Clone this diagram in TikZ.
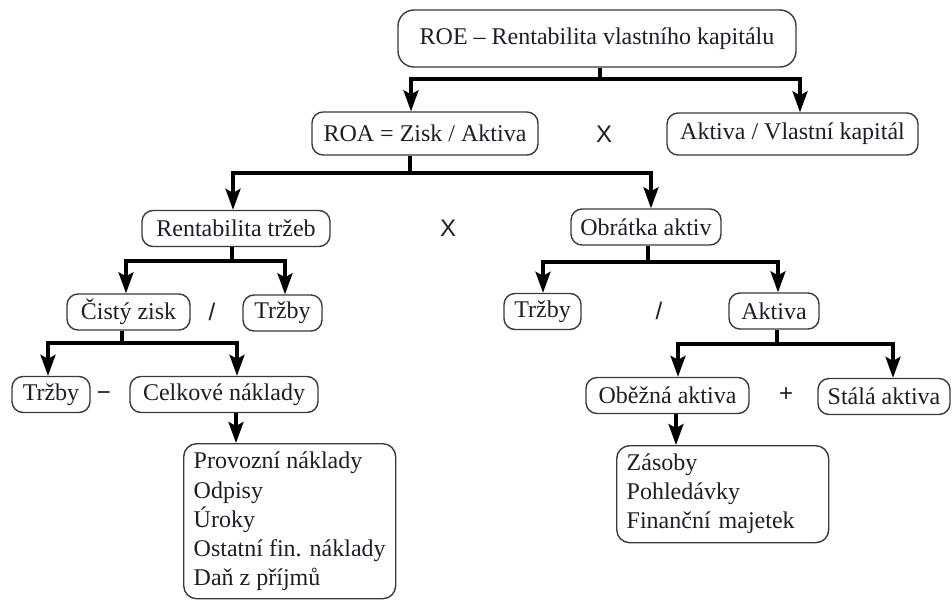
\documentclass[tikz,border=0pt]{standalone}
\usepackage{fontspec}
\setmainfont{Liberation Serif}
\newfontfamily\opfont{Liberation Sans}
\usetikzlibrary{arrows.meta}
\definecolor{boxline}{HTML}{3A3A3A}
\definecolor{txt}{HTML}{1E1E28}
\begin{document}
\begin{tikzpicture}[x=1pt,y=-1pt,
  box/.style={draw=boxline,line width=1.4pt,rounded corners=11pt,fill=white,text=txt,
    font=\fontsize{24}{29}\selectfont,inner xsep=0pt,inner ysep=0pt,minimum height=36pt},
  listbox/.style={box,anchor=north west,align=left,inner xsep=10pt,inner ysep=6pt,rounded corners=13pt},
  op/.style={text=txt,font=\opfont\fontsize{24}{26}\selectfont,inner sep=0pt},
  conn/.style={line width=3.2pt,black},
  arr/.style={conn,-{Stealth[length=21pt,width=15pt,inset=4pt]}}]
\useasboundingbox (0,0) rectangle (952,600);
\fill[white] (0,0) rectangle (952,600);

% nodes
\node[box,minimum width=398pt,minimum height=57pt,rounded corners=16pt] (roe) at (597,38.5) {ROE -- Rentabilita vlastního kapitálu};
\node[box,minimum width=226pt,minimum height=43pt] (roa) at (425,133.5) {ROA = Zisk / Aktiva};
\node[box,minimum width=251pt,minimum height=42pt] (avk) at (792.5,134) {Aktiva / Vlastní kapitál};
\node[op] (x1) at (604,134) {X};

\node[box,minimum width=188pt] (rent) at (236,228.5) {Rentabilita tržeb};
\node[box,minimum width=150pt] (obr) at (646,227) {Obrátka aktiv};
\node[op] (x2) at (448,228) {X};

\node[box,minimum width=123pt] (cz) at (128.5,312) {Čistý zisk};
\node[box,minimum width=79pt] (tl) at (282.5,313) {Tržby};
\node[op] (s1) at (212,312) {/};
\node[box,minimum width=77pt] (tr) at (542.5,311.5) {Tržby};
\node[box,minimum width=90pt] (akt) at (774,311) {Aktiva};
\node[op] (s2) at (659,311) {/};

\node[box,minimum width=78pt] (tbl) at (51,394.5) {Tržby};
\node[box,minimum width=188pt] (cn) at (224,394.5) {Celkové náklady};
\node[op] (m1) at (104,396) {−};
\node[box,minimum width=163pt] (ob) at (667.5,395.5) {Oběžná aktiva};
\node[box,minimum width=132pt] (st) at (884,396.5) {Stálá aktiva};
\node[op] (p1) at (786,395) {+};

\node[listbox,minimum width=212pt,minimum height=155pt] (list1) at (183,443)
  {Provozní náklady\\Odpisy\\Úroky\\Ostatní fin. náklady\\Daň z příjmů};
\node[listbox,text width=192pt,minimum height=97pt] (list2) at (616,445)
  {Zásoby\\Pohledávky\\Finanční majetek};

% junction coordinates
\coordinate (j1) at (600,79);  \coordinate (a1) at (411,79);  \coordinate (b1) at (800,79);
\coordinate (j2) at (410,173); \coordinate (a2) at (233,173); \coordinate (b2) at (651,173);
\coordinate (j3) at (232,261); \coordinate (a3) at (126,261); \coordinate (b3) at (285,261);
\coordinate (j4) at (648,262); \coordinate (a4) at (543,262); \coordinate (b4) at (778,262);
\coordinate (j5) at (122,343); \coordinate (a5) at (48,343);  \coordinate (b5) at (237,343);
\coordinate (j6) at (777,344); \coordinate (a6) at (678,344); \coordinate (b6) at (893,344);
\coordinate (c7) at (236,425); \coordinate (c8) at (676,425);

% connectors
\draw[conn] (roe.south -| j1) -- (j1);
\draw[arr] (j1) -| (roa.north -| a1);
\draw[arr] (j1) -| (avk.north -| b1);

\draw[conn] (roa.south -| j2) -- (j2);
\draw[arr] (j2) -| (rent.north -| a2);
\draw[arr] (j2) -| (obr.north -| b2);

\draw[conn] (rent.south -| j3) -- (j3);
\draw[arr] (j3) -| (cz.north -| a3);
\draw[arr] (j3) -| (tl.north -| b3);

\draw[conn] (obr.south -| j4) -- (j4);
\draw[arr] (j4) -| (tr.north -| a4);
\draw[arr] (j4) -| (akt.north -| b4);

\draw[conn] (cz.south -| j5) -- (j5);
\draw[arr] (j5) -| (tbl.north -| a5);
\draw[arr] (j5) -| (cn.north -| b5);

\draw[conn] (akt.south -| j6) -- (j6);
\draw[arr] (j6) -| (ob.north -| a6);
\draw[arr] (j6) -| (st.north -| b6);

\draw[arr] (cn.south -| c7) -- (list1.north -| c7);
\draw[arr] (ob.south -| c8) -- (list2.north -| c8);
\end{tikzpicture}
\end{document}
